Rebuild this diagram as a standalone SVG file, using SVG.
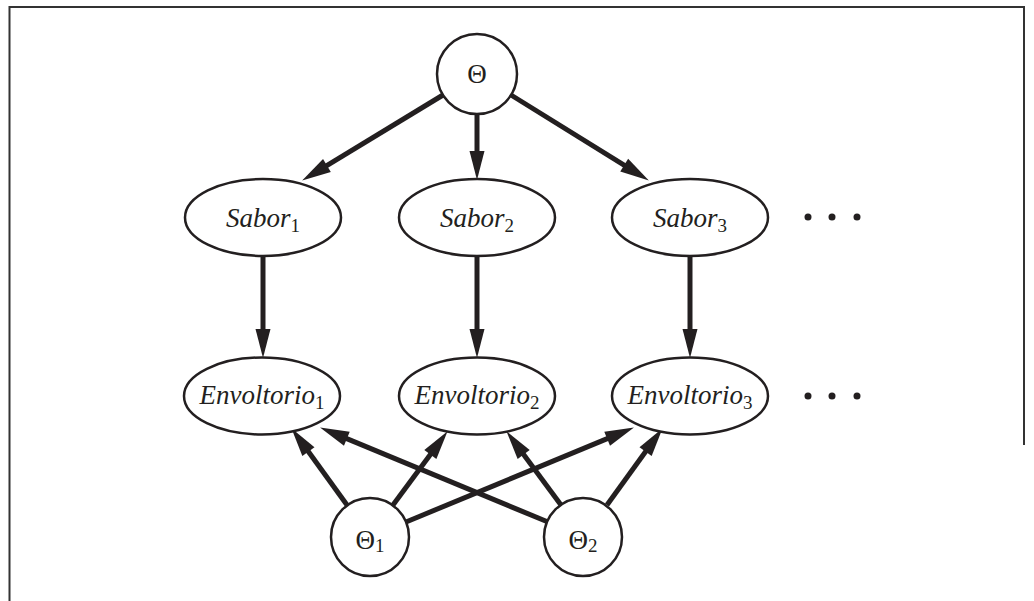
<svg xmlns="http://www.w3.org/2000/svg" width="1034" height="601" viewBox="0 0 1034 601">
<style>
.node{fill:#fff;stroke:#231f20;stroke-width:2.5}
.edge{stroke:#231f20;stroke-width:5;fill:none}
.lbl{font-family:"Liberation Serif","Times New Roman",serif;font-size:27px;fill:#231f20}
.it{font-style:italic}
.sub{font-size:19px;font-style:normal}
.frame{stroke:#333;stroke-width:2;fill:none}
.dot{fill:#231f20}
</style>
<defs>
<marker id="ah" markerUnits="userSpaceOnUse" markerWidth="30" markerHeight="15" refX="6" refY="7.5" orient="auto" overflow="visible">
<path d="M0,0 L29,7.5 L0,15 z" fill="#231f20"/>
</marker>
</defs>
<rect width="1034" height="601" fill="#fff"/>
<polyline class="frame" points="9.5,601 9.5,7 1024,7 1024,445"/>
<g id="connectors">
<line class="edge" x1="443" y1="95" x2="321.8" y2="168.6" marker-end="url(#ah)"/>
<line class="edge" x1="477" y1="114" x2="477" y2="157" marker-end="url(#ah)"/>
<line class="edge" x1="511" y1="95" x2="629.3" y2="168.4" marker-end="url(#ah)"/>
<line class="edge" x1="263" y1="256" x2="263" y2="335" marker-end="url(#ah)"/>
<line class="edge" x1="477" y1="256" x2="477" y2="335" marker-end="url(#ah)"/>
<line class="edge" x1="690" y1="256" x2="690" y2="335" marker-end="url(#ah)"/>
<line class="edge" x1="347" y1="505" x2="304.9" y2="446.8" marker-end="url(#ah)"/>
<line class="edge" x1="393" y1="505" x2="433.9" y2="449.7" marker-end="url(#ah)"/>
<line class="edge" x1="406" y1="522" x2="612.7" y2="436.4" marker-end="url(#ah)"/>
<line class="edge" x1="548" y1="522" x2="341.3" y2="436.4" marker-end="url(#ah)"/>
<line class="edge" x1="561" y1="505" x2="520.1" y2="449.7" marker-end="url(#ah)"/>
<line class="edge" x1="607" y1="505" x2="649.1" y2="446.8" marker-end="url(#ah)"/>
</g>
<g id="theta">
<circle class="node" cx="477" cy="74" r="40"/>
<text class="lbl" x="477" y="83" text-anchor="middle">Θ</text>
</g>
<g id="sabor1">
<ellipse class="node" cx="263" cy="217.5" rx="78" ry="38.5"/>
<text class="lbl it" x="263" y="227" text-anchor="middle">Sabor<tspan class="sub" dy="5">1</tspan></text>
</g>
<g id="sabor2">
<ellipse class="node" cx="477" cy="217.5" rx="78" ry="38.5"/>
<text class="lbl it" x="477" y="227" text-anchor="middle">Sabor<tspan class="sub" dy="5">2</tspan></text>
</g>
<g id="sabor3">
<ellipse class="node" cx="690" cy="217.5" rx="78" ry="38.5"/>
<text class="lbl it" x="690" y="227" text-anchor="middle">Sabor<tspan class="sub" dy="5">3</tspan></text>
</g>
<g id="dots1">
<circle class="dot" cx="808" cy="217" r="3.5"/>
<circle class="dot" cx="832" cy="217" r="3.5"/>
<circle class="dot" cx="857" cy="217" r="3.5"/>
</g>
<g id="envoltorio1">
<ellipse class="node" cx="262" cy="396" rx="78" ry="38.5"/>
<text class="lbl it" x="262" y="404" text-anchor="middle">Envoltorio<tspan class="sub" dy="5">1</tspan></text>
</g>
<g id="envoltorio2">
<ellipse class="node" cx="477" cy="396" rx="78" ry="38.5"/>
<text class="lbl it" x="477" y="404" text-anchor="middle">Envoltorio<tspan class="sub" dy="5">2</tspan></text>
</g>
<g id="envoltorio3">
<ellipse class="node" cx="690" cy="396" rx="78" ry="38.5"/>
<text class="lbl it" x="690" y="404" text-anchor="middle">Envoltorio<tspan class="sub" dy="5">3</tspan></text>
</g>
<g id="dots2">
<circle class="dot" cx="808" cy="396" r="3.5"/>
<circle class="dot" cx="832" cy="396" r="3.5"/>
<circle class="dot" cx="857" cy="396" r="3.5"/>
</g>
<g id="theta1">
<circle class="node" cx="370" cy="537" r="39"/>
<text class="lbl" x="370" y="549" text-anchor="middle">Θ<tspan class="sub" dy="3">1</tspan></text>
</g>
<g id="theta2">
<circle class="node" cx="583" cy="537" r="39"/>
<text class="lbl" x="583" y="549" text-anchor="middle">Θ<tspan class="sub" dy="3">2</tspan></text>
</g>
</svg>
